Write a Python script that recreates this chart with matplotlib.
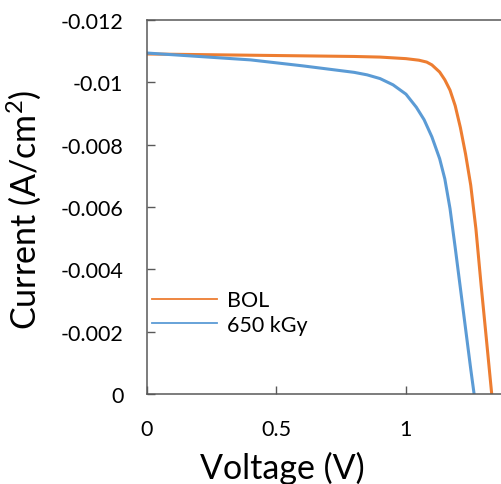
import numpy as np
import matplotlib
matplotlib.use('Agg')
import matplotlib.pyplot as plt

# I-V curves
v_bol = [0, 0.2, 0.4, 0.6, 0.8, 0.9, 1.0, 1.05, 1.08, 1.1, 1.13, 1.15, 1.17,
         1.19, 1.21, 1.23, 1.25, 1.27, 1.29, 1.31, 1.331]
i_bol = [-0.01091, -0.01089, -0.01087, -0.01085, -0.01083, -0.01081, -0.01076,
         -0.01071, -0.01065, -0.01056, -0.01033, -0.01008, -0.00975, -0.00925,
         -0.00855, -0.00770, -0.00670, -0.00530, -0.0035, -0.0018, 0.0]

v_650 = [0, 0.2, 0.4, 0.6, 0.8, 0.85, 0.9, 0.95, 1.0, 1.04, 1.07, 1.1, 1.13,
         1.15, 1.17, 1.19, 1.21, 1.23, 1.25, 1.263]
i_650 = [-0.01094, -0.01083, -0.01072, -0.01053, -0.01032, -0.01024, -0.01012,
         -0.00992, -0.00962, -0.00920, -0.00880, -0.00825, -0.00755, -0.00690,
         -0.00595, -0.00470, -0.0034, -0.0021, -0.0008, 0.0]

labels = ['BOL', '650 kGy']
colors = ['#ED7D31', '#5B9BD5']

y_ticks = [-0.012, -0.01, -0.008, -0.006, -0.004, -0.002, 0]
y_ticklabels = ['-0.012', '-0.01', '-0.008', '-0.006', '-0.004', '-0.002', '0']
x_ticks = [0, 0.5, 1]
x_ticklabels = ['0', '0.5', '1']

plt.rcParams['font.family'] = ['Lato', 'DejaVu Sans']
plt.rcParams['mathtext.fontset'] = 'custom'
plt.rcParams['mathtext.rm'] = 'Lato'

fig = plt.figure(figsize=(5.02, 4.85), dpi=100)
ax = fig.add_axes([0.2928, 0.1856, 0.7223, 0.7711])

ax.plot(v_bol, i_bol, color=colors[0], lw=2.2, label=labels[0])
ax.plot(v_650, i_650, color=colors[1], lw=2.2, label=labels[1])

ax.set_xlim(0, 1.4)
ax.set_ylim(0, -0.012)

ax.set_xticks(x_ticks)
ax.set_xticklabels(x_ticklabels)
ax.set_yticks(y_ticks)
ax.set_yticklabels(y_ticklabels)
ax.tick_params(direction='in', length=6, width=1, color='#595959', labelsize=15.5)
ax.tick_params(axis='x', pad=18)
ax.tick_params(axis='y', pad=17)

for s in ax.spines.values():
    s.set_color('#595959')
    s.set_linewidth(1.1)

ax.set_xlabel('Voltage (V)', fontsize=24.5)
ax.xaxis.set_label_coords(0.372, -0.152)
ax.set_ylabel(r'Current (A/cm$\mathregular{^2}$)', fontsize=24.5)
ax.yaxis.set_label_coords(-0.287, 0.495)

leg = ax.legend(loc='lower left', bbox_to_anchor=(-0.01, 0.136), frameon=False,
                fontsize=15.5, handlelength=3.0, handletextpad=0.5, labelspacing=0.2,
                borderaxespad=0)
for ln in leg.get_lines():
    ln.set_linewidth(1.3)

fig.savefig('out.png', dpi=100)
